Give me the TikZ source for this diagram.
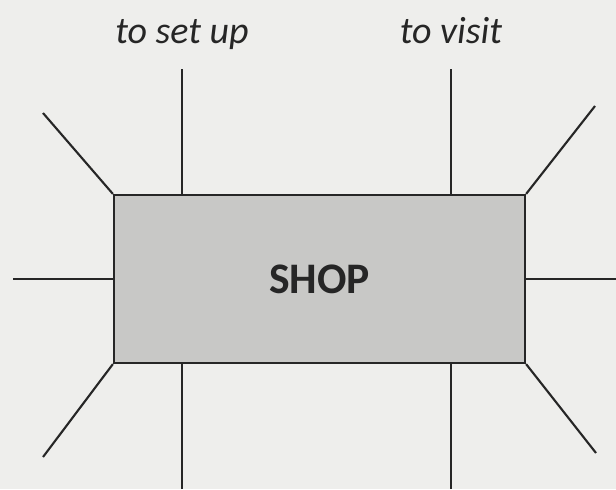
\documentclass[tikz,border=0pt]{standalone}
\usepackage{fontspec}
\setmainfont{Carlito}
\usetikzlibrary{positioning}
\definecolor{clrPaper}{HTML}{EEEEEC}
\definecolor{clrShop}{HTML}{C8C8C6}
\tikzset{
  shopbox/.style={rectangle, draw=black!85, fill=clrShop, line width=1.5pt,
    minimum width=10.275cm, minimum height=4.2cm,
    font=\fontsize{31}{36}\selectfont\bfseries, text=black!85},
  spoke/.style={line width=1.5pt, black!85},
  tag/.style={font=\fontsize{27}{32}\selectfont\itshape, inner sep=0pt,
    text=black!85},
}

\begin{document}
\begin{tikzpicture}[x=0.025cm, y=-0.025cm]

\fill[clrPaper] (0,0) rectangle (616,489);
\useasboundingbox (0,0) rectangle (616,489);

\node[shopbox] (shop) at (319.5,279) {SHOP};

% labels over the two upper spokes
\node[tag, anchor=base] (setup) at (182,43) {to set up};
\node[tag, anchor=base] (visit) at (451,43) {to visit};

% free ends of the spokes
\coordinate (tUp)  at (182,69);
\coordinate (tVis) at (451,69);
\coordinate (bUp)  at (182,489);
\coordinate (bVis) at (451,489);
\coordinate (lft)  at (13,279);
\coordinate (rgt)  at (616,279);
\coordinate (nw)   at (43,113);
\coordinate (ne)   at (595,106);
\coordinate (sw)   at (43,457);
\coordinate (se)   at (596,453);

\draw[spoke] (tUp) -- (tUp |- shop.north);
\draw[spoke] (tVis) -- (tVis |- shop.north);
\draw[spoke] (bUp) -- (bUp |- shop.south);
\draw[spoke] (bVis) -- (bVis |- shop.south);
\draw[spoke] (lft) -- (shop.west);
\draw[spoke] (rgt) -- (shop.east);
\draw[spoke] (nw) -- (shop.north west);
\draw[spoke] (ne) -- (shop.north east);
\draw[spoke] (sw) -- (shop.south west);
\draw[spoke] (se) -- (shop.south east);

\end{tikzpicture}
\end{document}
